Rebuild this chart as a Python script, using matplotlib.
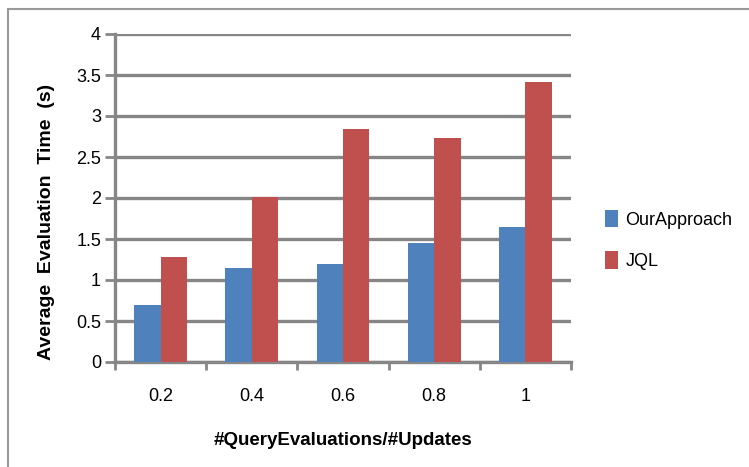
import matplotlib
matplotlib.use("Agg")
import matplotlib.pyplot as plt
import numpy as np
from matplotlib.patches import Rectangle

plt.rcParams['font.family'] = ['Liberation Sans', 'DejaVu Sans']

ratios = ['0.2', '0.4', '0.6', '0.8', '1']
our_approach = [0.70, 1.15, 1.19, 1.45, 1.65]
jql = [1.28, 2.01, 2.84, 2.73, 3.41]

blue = '#4F81BD'
red = '#C0504D'
grid_gray = '#868686'

fig = plt.figure(figsize=(7.49, 4.67), dpi=100)
ax = fig.add_axes([115 / 749, 105 / 467, 456 / 749, 328 / 467])

# frame around the whole chart area
fig.patches.append(Rectangle((8 / 749, -0.05), 1.1, (467 - 9) / 467 + 0.05,
                             transform=fig.transFigure, fill=False,
                             edgecolor='#999999', linewidth=1.5))

x = np.arange(len(ratios))
w = 0.29
ax.bar(x - w / 2, our_approach, w, color=blue, label='OurApproach', zorder=3)
ax.bar(x + w / 2, jql, w, color=red, label='JQL', zorder=3)

ax.set_xlim(-0.5, len(ratios) - 0.5)
ax.set_ylim(0, 4)
ax.set_yticks(np.arange(0, 4.01, 0.5))
ax.set_yticklabels(['0', '0.5', '1', '1.5', '2', '2.5', '3', '3.5', '4'])
ax.yaxis.grid(True, color=grid_gray, linewidth=2.4, zorder=0)
ax.set_axisbelow(True)

ax.set_xticks(x)
ax.set_xticklabels(ratios)
ax.set_xticks(np.arange(-0.5, len(ratios)), minor=True)
ax.tick_params(axis='x', which='major', length=0, labelsize=13, pad=19)
ax.tick_params(axis='x', which='minor', length=6, width=2, color=grid_gray)
ax.tick_params(axis='y', length=7, width=2, color=grid_gray, labelsize=13, pad=3)

for side in ['top', 'right']:
    ax.spines[side].set_visible(False)
for side in ['left', 'bottom']:
    ax.spines[side].set_color(grid_gray)
    ax.spines[side].set_linewidth(2.4)

ax.set_ylabel('Average  Evaluation  Time  (s)', fontsize=14, fontweight='bold')
ax.yaxis.set_label_coords(-0.131, 0.427)
ax.set_xlabel('#QueryEvaluations/#Updates', fontsize=13.5, fontweight='bold')
ax.xaxis.set_label_coords(0.5, -0.213)

ax.legend(loc='center left', bbox_to_anchor=(1.04, 0.372), frameon=False,
          fontsize=13, handlelength=0.7, handleheight=1.1, handletextpad=0.4,
          labelspacing=1.25)

fig.savefig('out.png', dpi=100)
